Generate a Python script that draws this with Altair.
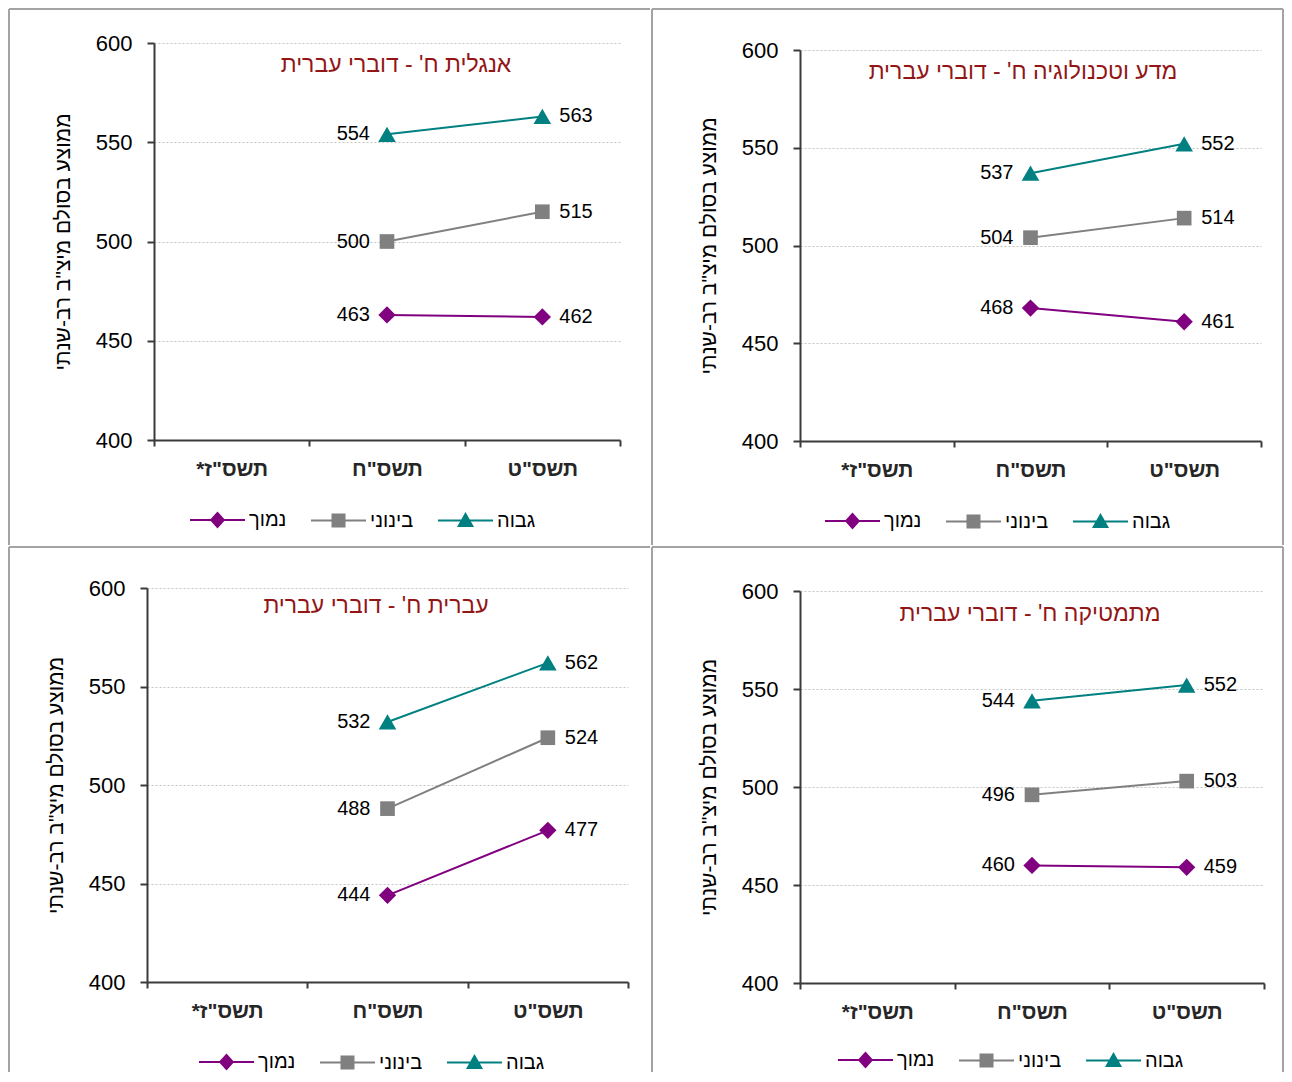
import altair as alt
import pandas as pd

# ---------------- data ----------------
years = ['תשס"ז*\u200f', 'תשס"ח', 'תשס"ט']
levels = ['נמוך', 'בינוני', 'גבוה']
panel_titles = [
    "אנגלית ח' - דוברי עברית",
    "מדע וטכנולוגיה ח' - דוברי עברית",
    "עברית ח' - דוברי עברית",
    "מתמטיקה ח' - דוברי עברית",
]
y_title = 'ממוצע בסולם מיצ"ב רב-שנתי'
y_ticks = [400, 450, 500, 550, 600]

# values for תשס"ח, תשס"ט
english_low = [463, 462]
english_mid = [500, 515]
english_high = [554, 563]
science_low = [468, 461]
science_mid = [504, 514]
science_high = [537, 552]
hebrew_low = [444, 477]
hebrew_mid = [488, 524]
hebrew_high = [532, 562]
math_low = [460, 459]
math_mid = [496, 503]
math_high = [544, 552]

# ---------------- style ----------------
FONT = "Liberation Sans"
COLORS = ["#800080", "#808080", "#008080"]
MARKERS = ["diamond", "square", "triangle-up"]
MARKER_SIZES = [300, 215, 310]
LEGEND_PATHS = [
    "M-2.75,0H2.75M-0.63,0L0,-0.7L0.63,0L0,0.7Z",
    "M-2.75,0H2.75M-0.6,-0.6H0.6V0.6H-0.6Z",
    "M-2.75,0H2.75M-0.68,0.55L0,-0.65L0.68,0.55Z",
]
TITLE_COLOR = "#931616"
AXIS_COLOR = "#3a3a3a"
FRAME_COLOR = "#a3a3a3"


def table(low, mid, high):
    rows = []
    for lvl, vals in zip(levels, [low, mid, high]):
        for yr, v in zip(years[1:], vals):
            rows.append({"year": yr, "level": lvl, "value": v})
    return pd.DataFrame(rows)


def rule(x1, y1, x2, y2):
    return alt.Chart(pd.DataFrame({"k": [0]})).mark_rule(
        stroke=FRAME_COLOR, strokeWidth=2
    ).encode(x=alt.value(x1), y=alt.value(y1), x2=alt.value(x2), y2=alt.value(y2))


def panel(title, df, xr, yr, tpos, lpos, right_col, bottom_row):
    W, H = xr[1], yr[0]
    x = alt.X(
        "year:N",
        scale=alt.Scale(type="band", domain=years, range=list(xr),
                        paddingInner=0, paddingOuter=0),
        axis=alt.Axis(
            title=None, tickBand="extent", labelAngle=0, tickSize=6, tickWidth=2,
            tickColor=AXIS_COLOR, domainColor=AXIS_COLOR, domainWidth=2,
            labelFont=FONT, labelFontSize=21, labelFontWeight="bold",
            labelColor="#262626", labelPadding=12, grid=False,
        ),
    )
    y = alt.Y(
        "value:Q",
        scale=alt.Scale(domain=[400, 600], range=list(yr), nice=False, zero=False),
        axis=alt.Axis(
            values=y_ticks, title=y_title, offset=-xr[0], tickSize=7, tickWidth=2,
            tickColor=AXIS_COLOR, domainColor=AXIS_COLOR, domainWidth=2,
            labelFont=FONT, labelFontSize=22, labelColor="#000000", labelPadding=15,
            titleFont=FONT, titleFontSize=21, titleFontWeight="normal",
            titleColor="#000000", titlePadding=22,
            grid=True, gridColor="#c4c4c4", gridDash=[2, 2], gridWidth=1,
        ),
    )
    base = alt.Chart(df)

    bottom = 491 if bottom_row else 502
    right = 493 if right_col else 503
    frame = [rule(-138, -34, right, -34), rule(-138, -34, -138, bottom)]
    if right_col:
        frame.append(rule(right, -34, right, bottom))

    title_mark = alt.Chart(pd.DataFrame({"t": [title]})).mark_text(
        align="center", baseline="middle", font=FONT, fontSize=23, color=TITLE_COLOR
    ).encode(text="t:N", x=alt.value(tpos[0]), y=alt.value(tpos[1]))

    series = []
    for i, lvl in enumerate(levels):
        sub = base.transform_filter(alt.FieldEqualPredicate(field="level", equal=lvl))
        series.append(sub.mark_line(strokeWidth=2, color=COLORS[i]).encode(x=x, y=y))
        series.append(sub.mark_point(filled=True, opacity=1, shape=MARKERS[i],
                                     size=MARKER_SIZES[i], color=COLORS[i]).encode(x=x, y=y))

    lab_l = base.mark_text(
        align="right", baseline="middle", dx=-17, font=FONT, fontSize=20, color="#000000"
    ).encode(x=x, y=y, text="value:Q").transform_filter(
        alt.FieldEqualPredicate(field="year", equal=years[1])
    )
    lab_r = base.mark_text(
        align="left", baseline="middle", dx=17, font=FONT, fontSize=20, color="#000000"
    ).encode(x=x, y=y, text="value:Q").transform_filter(
        alt.FieldEqualPredicate(field="year", equal=years[2])
    )
    leg = alt.Legend(
        orient="none", legendX=lpos[0] + 15.5, legendY=lpos[1] - 11, direction="horizontal",
        title=None, symbolSize=400, symbolStrokeWidth=2,
        labelFont=FONT, labelFontSize=20, labelColor="#000000",
        labelOffset=20.5, columnPadding=20, labelBaseline="middle",
    )
    legend_layer = base.mark_point(strokeWidth=2, opacity=1).encode(
        fill=alt.Fill("level:N", scale=alt.Scale(domain=levels, range=COLORS), legend=leg),
        stroke=alt.Stroke("level:N", scale=alt.Scale(domain=levels, range=COLORS), legend=leg),
        shape=alt.Shape("level:N", scale=alt.Scale(domain=levels, range=LEGEND_PATHS), legend=leg),
    ).transform_filter("false")

    return alt.layer(
        *frame, title_mark, *series, lab_l, lab_r, legend_layer
    ).properties(width=W, height=H)


# plot ranges (x: [left, right], y: [bottom, top]) relative to each panel origin
p1 = panel(panel_titles[0], table(english_low, english_mid, english_high),
           (7, 473), (397, 0), (249, 22), (44, 477), False, False)
p2 = panel(panel_titles[1], table(science_low, science_mid, science_high),
           (10, 471), (398, 7), (233, 29), (36, 478), True, False)
p3 = panel(panel_titles[2], table(hebrew_low, hebrew_mid, hebrew_high),
           (0, 481), (401, 7), (229, 25), (53, 481), False, True)
p4 = panel(panel_titles[3], table(math_low, math_mid, math_high),
           (10, 474), (402, 10), (240, 33), (49, 479), True, True)

INDEP = dict(fill="independent", stroke="independent", shape="independent")

row1 = alt.hconcat(p1, p2, spacing=0).resolve_scale(**INDEP)
row2 = alt.hconcat(p3, p4, spacing=0).resolve_scale(**INDEP)

chart = alt.vconcat(row1, row2, spacing=0).resolve_scale(**INDEP).properties(
    padding=0
).configure_view(strokeWidth=0)

chart.save("out.html", embed_options={"renderer": "svg", "actions": False})
